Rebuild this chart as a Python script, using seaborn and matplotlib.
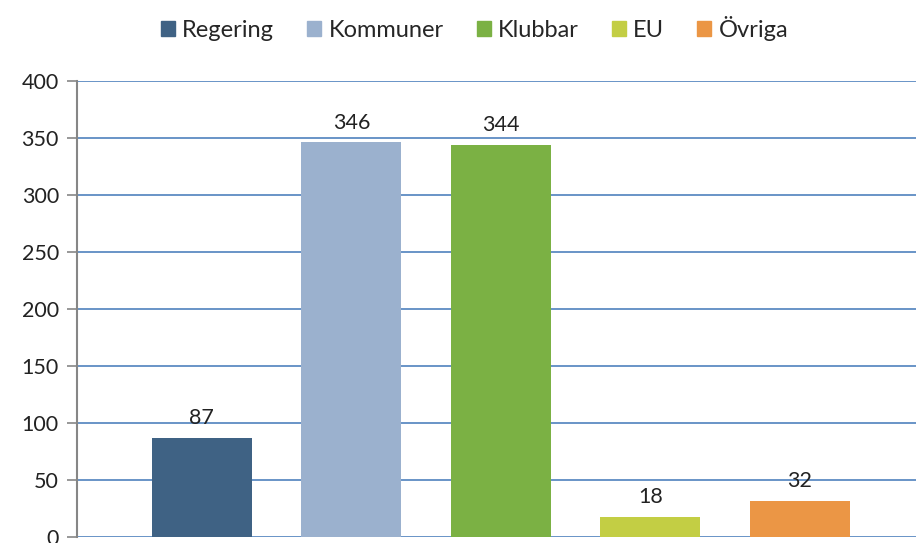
import matplotlib
matplotlib.use("Agg")
import matplotlib.pyplot as plt
import seaborn as sns
import pandas as pd

# --------------------------
# Data
# --------------------------
categories = ["Regering", "Kommuner", "Klubbar", "EU", "Övriga"]
values = [87, 346, 344, 18, 32]
colors = ["#3F6284", "#9BB1CE", "#7BB144", "#C3CE44", "#EB9645"]
yticks = [0, 50, 100, 150, 200, 250, 300, 350, 400]

df = pd.DataFrame({"kategori": categories, "antal": values})

sns.set_style("white")
plt.rcParams["font.family"] = ["Lato", "DejaVu Sans"]

fig = plt.figure(figsize=(9.16, 5.43), dpi=100)
ax = fig.add_axes([0.084, 0.011, 0.916, 0.840])

sns.barplot(data=df, x="kategori", y="antal", hue="kategori",
            palette=colors, dodge=False, width=0.669, legend=False,
            saturation=1, linewidth=0, ax=ax, zorder=3)

# value labels
for patch, v in zip(ax.patches, values):
    ax.annotate(str(v), (patch.get_x() + patch.get_width() / 2, v),
                xytext=(0, 7), textcoords="offset points",
                ha="center", va="bottom", fontsize=15.5, color="#222222")

ax.set_ylim(0, 400)
ax.set_xlim(-0.836, 4.776)
ax.set_yticks(yticks)
ax.set_yticklabels([str(t) for t in yticks], fontsize=15.5, color="#222222")
ax.set_xticks([])
ax.set_xlabel("")
ax.set_ylabel("")

ax.yaxis.grid(True, color="#4F81BD", linewidth=1.2, zorder=0)
ax.set_axisbelow(True)
for side in ["top", "right", "bottom"]:
    ax.spines[side].set_visible(False)
ax.spines["left"].set_color("#868686")
ax.spines["left"].set_linewidth(1.5)
ax.tick_params(axis="y", length=7, width=1.2, color="#868686", pad=6, left=True)

# legend on top
handles = [plt.Rectangle((0, 0), 1, 1, color=c) for c in colors]
fig.legend(handles, categories, loc="center", bbox_to_anchor=(0.518, 0.948),
           ncol=5, frameon=False, fontsize=17, handlelength=0.6,
           handleheight=0.6, handletextpad=0.3, columnspacing=1.4)

fig.savefig("out.png", dpi=100)
